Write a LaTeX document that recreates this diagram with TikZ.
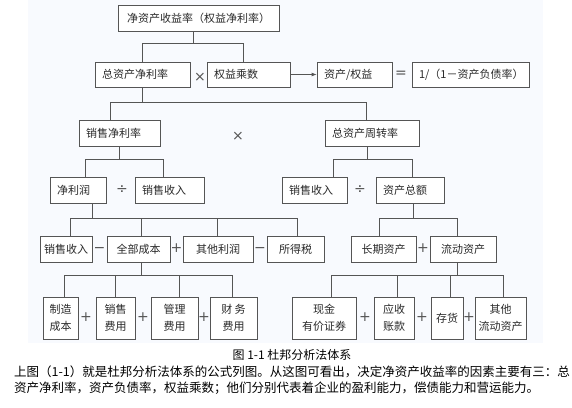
\documentclass[tikz,border=0pt]{standalone}
\usepackage{fontspec}
\setmainfont{Noto Sans CJK SC}
\newfontfamily\opfont{DejaVu Sans}
\usetikzlibrary{positioning, arrows.meta, calc}
\definecolor{panel}{HTML}{F8FAFE}
\definecolor{ink}{HTML}{2A2A2A}
\definecolor{frame}{HTML}{555555}

\begin{document}
\begin{tikzpicture}[x=1pt, y=-1pt,
      every node/.style={font=\fontsize{11}{17}\selectfont, align=center, text=ink},
      box/.style={draw=frame, line width=0.8pt, fill=white, inner sep=0pt, minimum height=26pt},
      lbox/.style={box, inner xsep=7pt, align=left, text width=#1},
      tall/.style={box, minimum height=42pt},
      op/.style={text=frame, font=\opfont\fontsize{14}{14}\selectfont, inner sep=0pt,
        text height=0.75em, text depth=0.15em},
      link/.style={draw=frame, line width=0.8pt}]
    \useasboundingbox (0,0) rectangle (572,407);
    \fill[panel] (28,0) rectangle (543,343);

    % level 1 and 2
    \node[box, minimum width=161pt] (roe) at (198.5,18) {净资产收益率（权益净利率）};
    \node[lbox=81pt, minimum height=25pt] (roa) at (142.5,74.5) {总资产净利率};
    \node[lbox=69pt, minimum height=25pt] (em) at (248.5,74.5) {权益乘数};
    \node[lbox=61pt, minimum height=25pt] (ae) at (354.5,74.5) {资产/权益};
    \node[lbox=103pt, minimum height=25pt] (debt) at (470.5,74.5) {1/（1－资产负债率）};
    \node[op] (x1) at (200,78) {×};
    \node[op] (eq) at (401,74.5) {=};

    % level 3
    \node[lbox=67pt] (npm) at (119.5,133) {销售净利率};
    \node[lbox=80pt] (tat) at (372,133) {总资产周转率};
    \node[op] (x2) at (238,137) {×};

    % level 4
    \node[lbox=42pt] (np) at (78,190) {净利润};
    \node[lbox=55pt] (salesl) at (169.5,190) {销售收入};
    \node[lbox=51pt] (salesr) at (314.5,190) {销售收入};
    \node[lbox=54pt] (ta) at (410,190) {资产总额};
    \node[op] (d1) at (122,190) {÷};
    \node[op] (d2) at (360,190) {÷};

    % level 5
    \node[box, minimum width=52pt] (rev) at (66,249) {销售收入};
    \node[box, minimum width=63pt] (cost) at (138.5,249) {全部成本};
    \node[box, minimum width=70pt] (other) at (218,249) {其他利润};
    \node[box, minimum width=57pt] (tax) at (295.5,249) {所得税};
    \node[box, minimum width=65pt] (fixed) at (383.5,249) {长期资产};
    \node[box, minimum width=66pt] (curr) at (463,249) {流动资产};
    \node[op] (m1) at (99.5,249) {−};
    \node[op] (p1) at (176.5,249) {+};
    \node[op] (m2) at (260,249) {−};
    \node[op] (p2) at (423,249) {+};

    % level 6
    \node[tall, minimum width=35pt] (mfg) at (60.5,318) {制造\\成本};
    \node[tall, minimum width=39pt] (sell) at (115.5,318) {销售\\费用};
    \node[tall, minimum width=47pt] (admin) at (174.5,318) {管理\\费用};
    \node[tall, minimum width=47pt] (fin) at (233.5,318) {财 务\\费用};
    \node[tall, minimum width=64pt] (cash) at (324,318) {现金\\有价证券};
    \node[tall, minimum width=40pt] (recv) at (394,318) {应收\\账款};
    \node[tall, minimum width=32pt] (stock) at (447,318) {存货};
    \node[tall, minimum width=51pt] (oca) at (500.5,318) {其他\\流动资产};
    \foreach \px in {86,143,204,365,422,469}
      \node[op] at (\px,318) {+};

    % tree links
    \draw[link] ([xshift=-5.5pt]roe.south) -- ++(0,12) coordinate (j1);
    \draw[link] (roa.north) |- (j1) -| ([xshift=-5.5pt]em.north);
    \draw[link] (roa.south) -- ++(0,15) coordinate (j2);
    \draw[link] ([xshift=-9.5pt]npm.north) |- (j2) -| ([xshift=-6pt]tat.north);
    \draw[link] (npm.south) -- ++(0,13) coordinate (j3);
    \draw[link] ([xshift=7pt]np.north) |- (j3) -| ([xshift=-6.5pt]salesl.north);
    \draw[link] ([xshift=-5pt]tat.south) -- ++(0,13) coordinate (j4);
    \draw[link] ([xshift=18.5pt]salesr.north) |- (j4) -| ([xshift=2pt]ta.north);
    \draw[link] ([xshift=14pt]np.south) -- ++(0,15) coordinate (j5);
    \draw[link] ([xshift=4pt]rev.north) |- (j5) -| ([xshift=1.5pt]tax.north);
    \draw[link] ([xshift=2.5pt]cost.north) -- ([xshift=2.5pt]cost.north |- j5);
    \draw[link] ([xshift=-1pt]other.north) -- ([xshift=-1pt]other.north |- j5);
    \draw[link] ([xshift=3pt]ta.south) -- ++(0,15) coordinate (j6);
    \draw[link] ([xshift=-4.5pt]fixed.north) |- (j6) -| ([xshift=-6pt]curr.north);
    \draw[link] ([xshift=2.5pt]cost.south) -- ++(0,13) coordinate (j7);
    \draw[link] ([xshift=3.5pt]mfg.north) |- (j7) -| ([xshift=-1.5pt]fin.north);
    \draw[link] (sell.north) -- (sell.north |- j7);
    \draw[link] ([xshift=4.5pt]admin.north) -- ([xshift=4.5pt]admin.north |- j7);
    \draw[link] ([xshift=-6pt]curr.south) -- ++(0,13) coordinate (j8);
    \draw[link] ([xshift=7pt]cash.north) |- (j8) -| ([xshift=2.5pt]oca.north);
    \draw[link] ([xshift=3pt]recv.north) -- ([xshift=3pt]recv.north |- j8);
    \draw[link] ([xshift=3pt]stock.north) -- ([xshift=3pt]stock.north |- j8);
    \draw[link, -{Latex[length=5pt, width=4pt]}] (em.east) -- (ae.west);

    % caption and text
    \node[font=\fontsize{12}{12}\selectfont, text=black] (cap) at (292,355) {图 1-1 杜邦分析法体系};
    \node[font=\fontsize{12.5}{12.5}\selectfont, text=black, anchor=west, inner sep=0pt] (line1) at (14,372)
      {上图（1-1）就是杜邦分析法体系的公式列图。从这图可看出，决定净资产收益率的因素主要有三：总};
    \node[font=\fontsize{12.5}{12.5}\selectfont, text=black, anchor=west, inner sep=0pt] (line2) at (14,388)
      {资产净利率，资产负债率，权益乘数；他们分别代表着企业的盈利能力，偿债能力和营运能力。};
  \end{tikzpicture}
\end{document}
